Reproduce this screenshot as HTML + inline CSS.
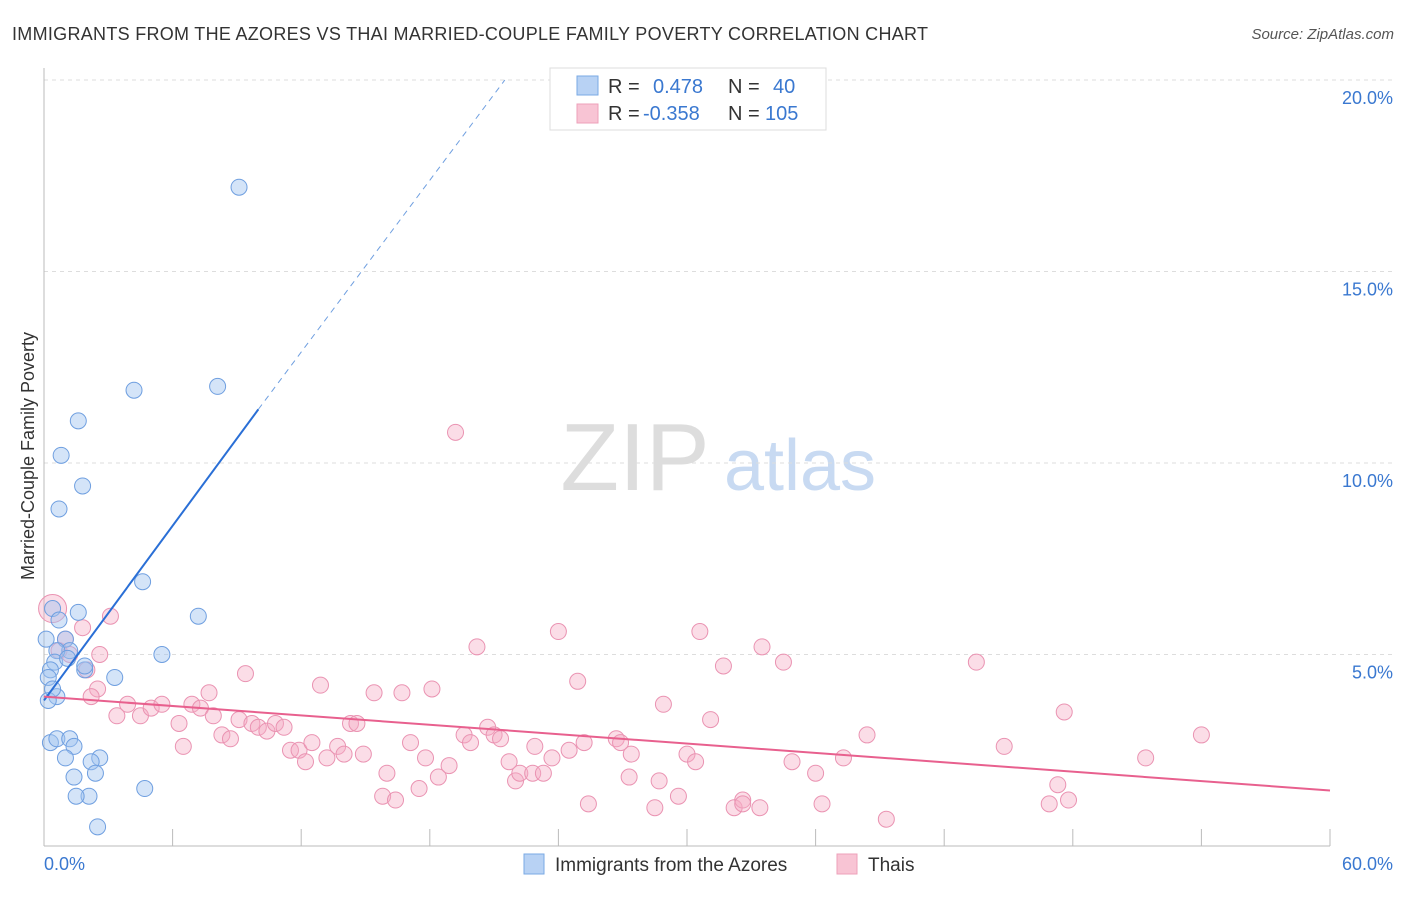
<!DOCTYPE html>
<html><head><meta charset="utf-8"><style>
body{margin:0;background:#fff;font-family:"Liberation Sans",sans-serif}
svg text{font-family:"Liberation Sans",sans-serif}
</style></head><body>
<svg id="c" width="1406" height="892">
<text x="12" y="40" font-size="18" fill="#333" textLength="916">IMMIGRANTS FROM THE AZORES VS THAI MARRIED-COUPLE FAMILY POVERTY CORRELATION CHART</text>
<text x="1394" y="39" font-size="15" fill="#555" font-style="italic" text-anchor="end">Source: ZipAtlas.com</text>
<text x="34" y="456" font-size="18" fill="#333" text-anchor="middle" transform="rotate(-90 34 456)">Married-Couple Family Poverty</text>
<g><text x="635" y="490" font-size="96" fill="#ddd" font-family="Liberation Serif" text-anchor="middle">ZIP</text><text x="800" y="490" font-size="72" fill="#c8daf2" text-anchor="middle">atlas</text></g>
<g id="grid"></g><g id="pts"></g><g id="lines"></g>
<g>
<rect x="550" y="68" width="276" height="62" fill="#fff" stroke="#ddd"/>
<rect x="577" y="76" width="21" height="19" fill="#b8d2f4" stroke="#7aaae4"/>
<rect x="577" y="104" width="21" height="19" fill="#f8c4d4" stroke="#eea0ba"/>
<text x="608" y="93" font-size="20" fill="#333">R =</text><text x="653" y="93" font-size="20" fill="#3a78d0">0.478</text>
<text x="728" y="93" font-size="20" fill="#333">N =</text><text x="773" y="93" font-size="20" fill="#3a78d0">40</text>
<text x="608" y="120" font-size="20" fill="#333">R =</text><text x="643" y="120" font-size="20" fill="#3a78d0">-0.358</text>
<text x="728" y="120" font-size="20" fill="#333">N =</text><text x="765" y="120" font-size="20" fill="#3a78d0">105</text>
</g>
<g>
<rect x="524" y="854" width="20" height="20" fill="#b8d2f4" stroke="#7aaae4"/><text x="555" y="871" font-size="19" fill="#333">Immigrants from the Azores</text>
<rect x="837" y="854" width="20" height="20" fill="#f8c4d4" stroke="#eea0ba"/><text x="868" y="871" font-size="19" fill="#333">Thais</text>
</g>
</svg>
<script>
const yTicks=[5,10,15,20];
const xTickLabels=["0.0%","60.0%"];
const blueX=[9.1,4.2,8.1,1.6,0.8,1.8,0.7,4.6,1.6,7.2,0.4,0.7,5.5,3.3,1.0,1.2,0.6,0.5,1.1,1.9,0.3,0.2,0.6,0.2,0.3,0.6,1.2,1.4,1.0,2.6,2.2,2.4,1.4,4.7,2.1,1.5,2.5,0.1,0.4,1.9];
const blueY=[17.2,11.9,12.0,11.1,10.2,9.4,8.8,6.9,6.1,6.0,6.2,5.9,5.0,4.4,5.4,5.1,5.1,4.8,4.9,4.6,4.6,4.4,3.9,3.8,2.7,2.8,2.8,2.6,2.3,2.3,2.2,1.9,1.8,1.5,1.3,1.3,0.5,5.4,4.1,4.7];
const pinkX=[0.4,3.1,2.0,0.7,1.2,2.6,2.5,2.2,3.4,3.9,4.5,5.0,5.5,6.3,6.5,6.9,7.3,7.7,7.9,8.3,8.7,9.1,9.4,9.7,10.0,10.4,10.8,11.2,11.5,11.9,12.2,12.5,12.9,13.2,13.7,14.0,14.3,14.6,14.9,15.4,15.8,16.0,16.4,16.7,17.1,17.5,17.8,18.1,18.4,18.9,19.2,19.6,19.9,20.2,20.7,21.0,21.3,21.7,22.0,22.2,22.8,22.9,23.3,23.7,24.0,24.5,24.9,25.2,25.4,26.7,26.9,27.3,27.4,28.5,28.7,28.9,29.6,30.0,30.4,30.6,31.1,31.7,32.2,32.6,32.6,33.4,33.5,34.5,34.9,36.0,36.3,37.3,38.4,39.3,43.5,44.8,46.9,47.3,47.6,47.8,51.4,54.0,1.8,1.0];
const pinkY=[6.2,6.0,4.6,5.1,5.0,5.0,4.1,3.9,3.4,3.7,3.4,3.6,3.7,3.2,2.6,3.7,3.6,4.0,3.4,2.9,2.8,3.3,4.5,3.2,3.1,3.0,3.2,3.1,2.5,2.5,2.2,2.7,4.2,2.3,2.6,2.4,3.2,3.2,2.4,4.0,1.3,1.9,1.2,4.0,2.7,1.5,2.3,4.1,1.8,2.1,10.8,2.9,2.7,5.2,3.1,2.9,2.8,2.2,1.7,1.9,1.9,2.6,1.9,2.3,5.6,2.5,4.3,2.7,1.1,2.8,2.7,1.8,2.4,1.0,1.7,3.7,1.3,2.4,2.2,5.6,3.3,4.7,1.0,1.2,1.1,1.0,5.2,4.8,2.2,1.9,1.1,2.3,2.9,0.7,4.8,2.6,1.1,1.6,3.5,1.2,2.3,2.9,5.7,5.4];
const blueFit=[[0,3.8],[10,11.4],[21.5,20.0]];
const pinkFit=[[0,3.9],[60,1.45]];
const X0=44,X1=1330,Y0=846,PY=38.3;
const sx=v=>X0+(X1-X0)*v/60, sy=v=>Y0-PY*v;
const NS="http://www.w3.org/2000/svg";
function mk(t,a,p){const e=document.createElementNS(NS,t);for(const k in a)e.setAttribute(k,a[k]);document.getElementById(p).appendChild(e);return e;}
yTicks.forEach(v=>{const l=mk('line',{x1:X0,x2:1395,y1:sy(v),y2:sy(v),stroke:'#ddd','stroke-dasharray':'4,4'},'grid');


const t=mk('text',{x:1393,y:sy(v)+24,'font-size':18,fill:'#3a78d0','text-anchor':'end'},'grid');t.textContent=v.toFixed(1)+'%';

});
const ax=mk('line',{x1:X0,x2:X1,y1:Y0,y2:Y0,stroke:'#bbb'},'grid');


const ay=mk('line',{x1:X0,x2:X0,y1:68,y2:Y0,stroke:'#bbb'},'grid');


for(let i=1;i<=10;i++){const tk=mk('line',{x1:sx(i*6),x2:sx(i*6),y1:Y0-17,y2:Y0,stroke:'#bbb'},'grid');

}
xTickLabels.forEach((s,i)=>{const t=mk('text',{x:i?1393:44,y:870,'font-size':18,fill:'#3a78d0','text-anchor':i?'end':'start'},'grid');t.textContent=s;

});
pinkX.forEach((x,i)=>{const c=mk('circle',{cx:sx(x),cy:sy(pinkY[i]),r:i==0?14:8,fill:'rgba(244,170,196,0.4)',stroke:'#ea93b2','stroke-width':1},'pts');

});
blueX.forEach((x,i)=>{const c=mk('circle',{cx:sx(x),cy:sy(blueY[i]),r:8,fill:'rgba(160,196,240,0.45)',stroke:'#6f9fe0','stroke-width':1},'pts');

});
const b1=mk('line',{x1:sx(blueFit[0][0]),y1:sy(blueFit[0][1]),x2:sx(blueFit[1][0]),y2:sy(blueFit[1][1]),stroke:'#2a6fd6','stroke-width':2},'lines');


const b2=mk('line',{x1:sx(blueFit[1][0]),y1:sy(blueFit[1][1]),x2:sx(blueFit[2][0]),y2:sy(blueFit[2][1]),stroke:'#6f9fe0','stroke-width':1,'stroke-dasharray':'6,5'},'lines');


const p1=mk('line',{x1:sx(pinkFit[0][0]),y1:sy(pinkFit[0][1]),x2:sx(pinkFit[1][0]),y2:sy(pinkFit[1][1]),stroke:'#e8608e','stroke-width':2},'lines');


</script>
</body></html>
